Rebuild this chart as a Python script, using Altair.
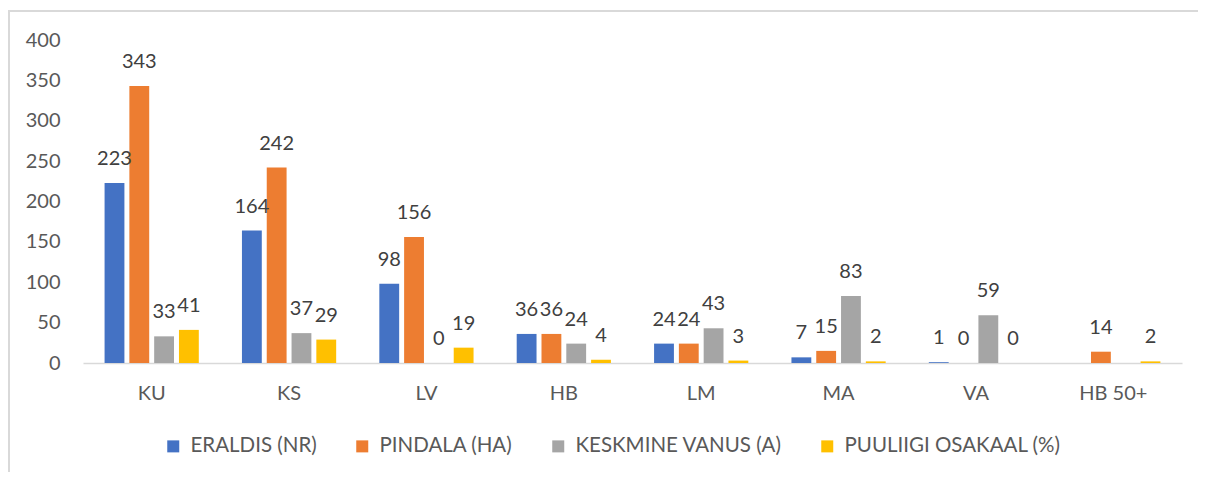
import altair as alt
import pandas as pd

categories = ["KU", "KS", "LV", "HB", "LM", "MA", "VA", "HB 50+"]
series = ["ERALDIS (NR)", "PINDALA (HA)", "KESKMINE VANUS (A)", "PUULIIGI OSAKAAL (%)"]
eraldis = [223, 164, 98, 36, 24, 7, 1, None]
pindala = [343, 242, 156, 36, 24, 15, 0, 14]
vanus = [33, 37, 0, 24, 43, 83, 59, None]
osakaal = [41, 29, 19, 4, 3, 2, 0, 2]
colors = ["#4472C4", "#ED7D31", "#A5A5A5", "#FFC000"]
y_ticks = [0, 50, 100, 150, 200, 250, 300, 350, 400]

rows = []
for s, vals in zip(series, [eraldis, pindala, vanus, osakaal]):
    for c, v in zip(categories, vals):
        rows.append({"cat": c, "series": s, "value": v})
df = pd.DataFrame(rows)

FONT = "Lato"
W, H = 1099, 323

x = alt.X("cat:N", sort=categories,
          scale=alt.Scale(paddingInner=0.278, paddingOuter=0.139),
          axis=alt.Axis(title=None, labelAngle=0, ticks=False, tickSize=0,
                        domainColor="#D9D9D9", domainWidth=1.5, labelPadding=20,
                        labelFontSize=20, labelColor="#595959", labelFont=FONT))
xo = alt.XOffset("series:N", sort=series,
                 scale=alt.Scale(paddingInner=0.2, paddingOuter=0.1))
y = alt.Y("value:Q", scale=alt.Scale(domain=[0, 400]),
          axis=alt.Axis(title=None, values=y_ticks, grid=False, domain=False,
                        ticks=False, tickSize=0, labelPadding=23,
                        labelFontSize=20, labelColor="#595959", labelFont=FONT))
color = alt.Color("series:N", sort=series,
                  scale=alt.Scale(domain=series, range=colors),
                  legend=alt.Legend(title=None, orient="none", legendX=80, legendY=396,
                                    direction="horizontal", symbolType="square",
                                    symbolSize=144, symbolStrokeWidth=0,
                                    labelFontSize=20.5, labelFont=FONT,
                                    labelColor="#595959", columnPadding=35,
                                    labelOffset=7, labelLimit=0))

base = alt.Chart(df).transform_filter("isValid(datum.value)")

bars = base.mark_bar().encode(x=x, xOffset=xo, y=y, color=color)
labels = base.mark_text(baseline="alphabetic", dy=-18, fontSize=20, font=FONT,
                        color="#404040").encode(x=x, xOffset=xo, y=y,
                                                text=alt.Text("value:Q"))

frame = alt.Chart(pd.DataFrame({"f": [0]})).mark_rect(
    filled=False, stroke="#D9D9D9", strokeWidth=2
).encode(x=alt.value(-74), x2=alt.value(1140), y=alt.value(-29), y2=alt.value(460))

chart = alt.layer(frame, bars, labels).properties(
    width=W, height=H,
    autosize=alt.AutoSizeParams(type="none"),
    padding={"left": 75, "top": 32, "right": 16, "bottom": 109},
).configure_view(stroke=None)

chart.save("out.html", embed_options={"renderer": "svg", "actions": False})
